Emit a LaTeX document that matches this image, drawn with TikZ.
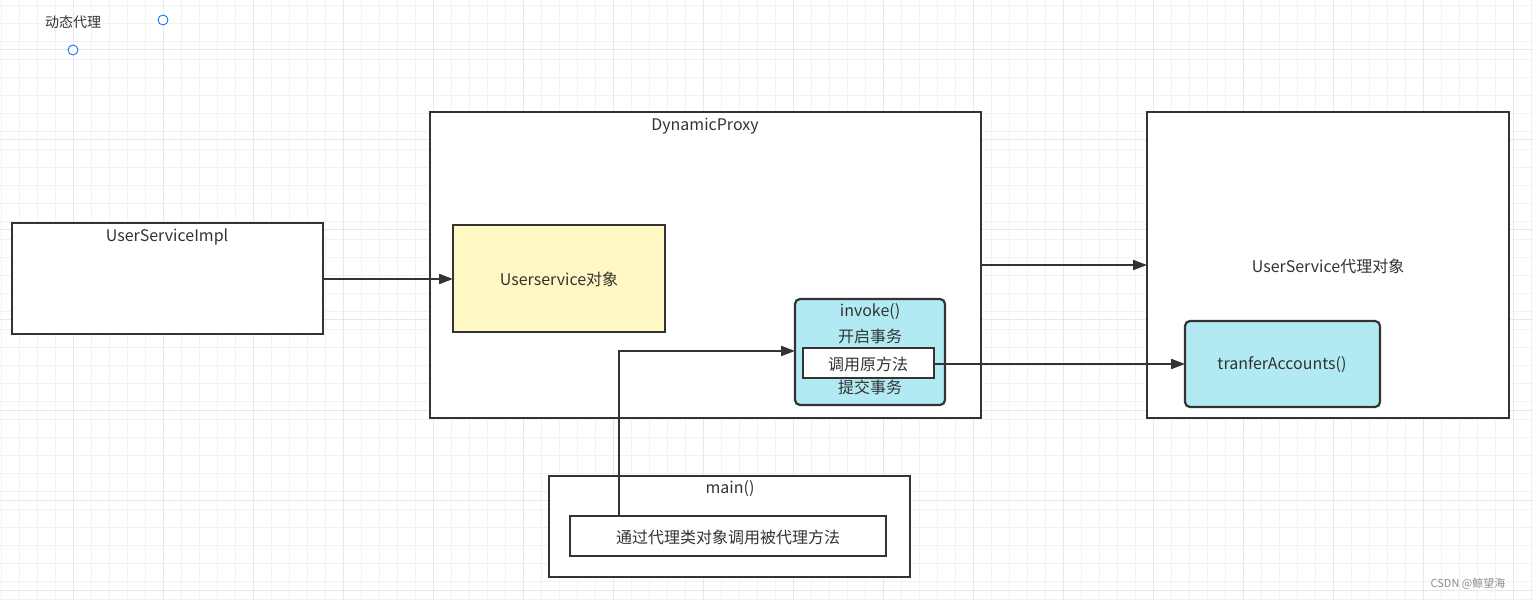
\documentclass[tikz,border=0pt]{standalone}
\usepackage{fontspec}
\setmainfont{Noto Sans CJK SC}
\usetikzlibrary{arrows.meta}
\definecolor{ln}{HTML}{333333}
\definecolor{yel}{HTML}{FFF8C5}
\definecolor{cy}{HTML}{B1EAF2}
\begin{document}
\begin{tikzpicture}[x=1pt,y=-1pt,
  box/.style={draw=ln,line width=2.2pt},
  rbox/.style={box,rounded corners=5pt,fill=cy},
  lbl/.style={font=\fontsize{16}{18}\selectfont,text=ln,inner sep=0},
  arr/.style={draw=ln,line width=2.2pt,-{Triangle[length=14pt,width=10pt]}}]
\useasboundingbox (0,0) rectangle (1533,601);
\fill[white] (0,0) rectangle (1533,601);
\foreach \x in {1,19,...,1533} \draw[black!5,line width=0.8pt] (\x,0) -- (\x,601);
\foreach \y in {5,23,...,601} \draw[black!5,line width=0.8pt] (0,\y) -- (1533,\y);
\foreach \x in {73,163,...,1533} \draw[black!9,line width=1pt] (\x,0) -- (\x,601);
\foreach \y in {50,140,...,601} \draw[black!9,line width=1pt] (0,\y) -- (1533,\y);
\node[lbl,font=\fontsize{14}{16}\selectfont] (title) at (73,22) {动态代理};
\node[draw=blue!60!cyan,circle,minimum size=10pt,inner sep=0,line width=0.8pt,fill=white] (c1) at (163,20) {};
\node[draw=blue!60!cyan,circle,minimum size=10pt,inner sep=0,line width=0.8pt,fill=white] (c2) at (73,50) {};
% boxes
\draw[box,fill=white] (12,223) rectangle (323,334);
\node[lbl] (impl) at (167,237) {UserServiceImpl};
\coordinate (implR) at (323,279);
\draw[box,fill=white] (430,112) rectangle (981,418);
\node[lbl] (dp) at (705,126) {DynamicProxy};
\coordinate (dpR) at (981,265);
\draw[box,fill=yel] (453,225) rectangle (665,332);
\node[lbl] (us) at (559,279) {Userservice对象};
\coordinate (usL) at (453,279);
\draw[rbox] (795,299) rectangle (945,405);
\coordinate (invL) at (795,351);
\node[lbl] (inv) at (870,312) {invoke()};
\node[lbl] (kq) at (870,336) {开启事务};
\node[lbl] (tj) at (870,387) {提交事务};
\draw[box,fill=white] (803,348) rectangle (934,378);
\node[lbl] (dy) at (868,364) {调用原方法};
\coordinate (dyR) at (934,364);
\draw[box,fill=white] (1147,112) rectangle (1509,418);
\node[lbl] (prx) at (1328,266) {UserService代理对象};
\coordinate (prxL) at (1147,265);
\draw[rbox] (1185,321) rectangle (1380,407);
\node[lbl] (ta) at (1282,365) {tranferAccounts()};
\coordinate (taL) at (1185,364);
\draw[box,fill=white] (549,476) rectangle (910,577);
\node[lbl] (mn) at (730,489) {main()};
\draw[box,fill=white] (570,516) rectangle (886,556);
\node[lbl] (call) at (728,537) {通过代理类对象调用被代理方法};
\coordinate (callT) at (619,516);
% arrows
\draw[arr] (implR) -- (usL);
\draw[arr] (dpR) -- (prxL);
\draw[arr] (dyR) -- (taL);
\draw[arr] (callT) |- (invL);
\node[font=\fontsize{11}{12}\selectfont,text=black!45,inner sep=0] (wm) at (1468,584) {CSDN @鲸望海};
\end{tikzpicture}
\end{document}
